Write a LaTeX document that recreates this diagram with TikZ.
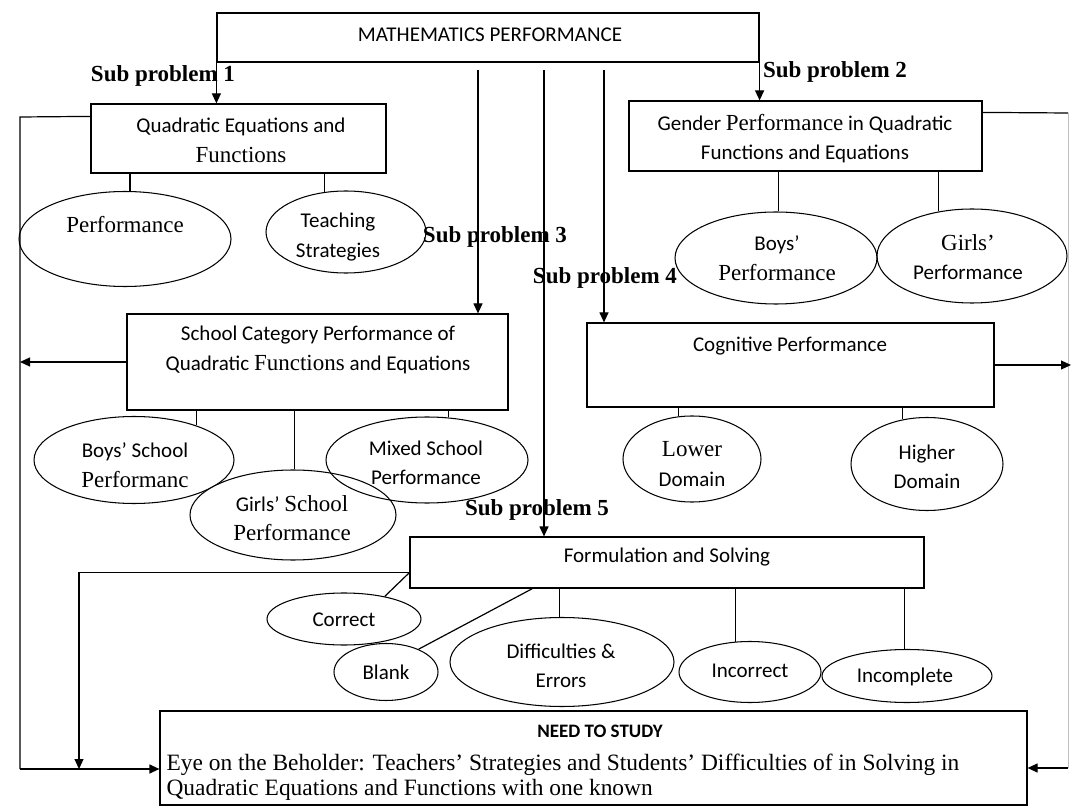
\documentclass[tikz,border=0pt]{standalone}
\usepackage{fontspec}
\setmainfont{Liberation Serif}
\newfontfamily\fsans{Carlito}
\usetikzlibrary{shapes.geometric,arrows.meta,calc}
\newcommand\txr[1]{{\rmfamily\fontsize{23}{29.5}\selectfont #1}}
\begin{document}
\begin{tikzpicture}[x=1pt,y=-1pt,line width=1.2pt,
  every node/.style={font=\fsans\fontsize{21}{29.5}\selectfont, align=center, inner sep=0pt},
  box/.style={draw, rectangle},
  oval/.style={draw, ellipse, line width=1.05pt},
  sublbl/.style={font=\rmfamily\bfseries\fontsize{23}{28}\selectfont},
  arr/.style={-{Triangle[length=10pt,width=9pt]}},
  faint/.style={draw=black!25, line width=0.8pt}]
\fill[white] (0,0) rectangle (1072,810);
\useasboundingbox (0,0) rectangle (1072,810);

% boxes
\node[box, minimum width=542pt, minimum height=49pt] (main) at (488,37.5) {};
\node (mainT) at (490,35) {MATHEMATICS PERFORMANCE};
\node[box, minimum width=295pt, minimum height=69pt] (quad) at (238.5,138.5) {};
\node (quadT) at (241,140.5) {Quadratic Equations and\\\txr{Functions}};
\node[box, minimum width=353pt, minimum height=70pt] (gender) at (805.5,136) {};
\node (genderT) at (805,138.5) {Gender \txr{Performance} in Quadratic\\Functions and Equations};
\node[box, minimum width=381pt, minimum height=96pt] (school) at (317.5,362) {};
\node (schoolT) at (318,350) {School Category Performance of\\Quadratic \txr{Functions} and Equations};
\node[box, minimum width=407pt, minimum height=84pt] (cog) at (790.5,365) {};
\node (cogT) at (790,346) {Cognitive Performance};
\node[box, minimum width=514pt, minimum height=51pt] (form) at (667,562.5) {};
\node (formT) at (667,557) {Formulation and Solving};
\node[box, minimum width=867pt, minimum height=94pt] (need) at (593.5,758) {};
\node[font=\fsans\bfseries\fontsize{19}{22}\selectfont] (needT) at (600,731) {NEED TO STUDY};
\node[anchor=west, align=left, font=\rmfamily\fontsize{23.4}{25}\selectfont] (needB) at (166,777)
  {Eye on the Beholder: Teachers’ Strategies and Students’ Difficulties of in Solving in\\Quadratic Equations and Functions with one known};

% ellipses
\node[oval, minimum width=212pt, minimum height=95pt] (perf) at (125,239) {};
\node (perfT) at (125,225) {\txr{Performance}};
\node[oval, minimum width=160pt, minimum height=82pt] (teach) at (346,232) {};
\node (teachT) at (338,237) {Teaching\\Strategies};
\node[oval, minimum width=202pt, minimum height=92pt] (boysP) at (776,258) {};
\node (boysPT) at (777,258) {Boys’\\\txr{Performance}};
\node[oval, minimum width=190pt, minimum height=94pt] (girlsP) at (972,256) {};
\node (girlsPT) at (968,257) {\txr{Girls’}\\Performance};
\node[oval, minimum width=200pt, minimum height=87pt] (boysS) at (134,460) {};
\node (boysST) at (135,465) {Boys’ School\\\txr{Performanc}};
\node[oval, fill=white, minimum width=206pt, minimum height=90pt] (girlsS) at (293,515) {};
\node (girlsST) at (292,518) {Girls’ \txr{School}\\\txr{Performance}};
\node[oval, minimum width=202pt, minimum height=86pt] (mixedS) at (427,460) {};
\node (mixedST) at (426,463) {Mixed School\\Performance};
\node[oval, minimum width=138pt, minimum height=86pt] (lower) at (692,459) {};
\node (lowerT) at (692,464) {\txr{Lower}\\Domain};
\node[oval, minimum width=152pt, minimum height=93pt] (higher) at (927,464) {};
\node (higherT) at (927,467) {Higher\\Domain};
\node[oval, minimum width=154pt, minimum height=52pt] (correct) at (344,619) {};
\node (correctT) at (344,620) {Correct};
\node[oval, minimum width=104pt, minimum height=57pt] (blank) at (386,672) {};
\node (blankT) at (386,672) {Blank};
\node[oval, minimum width=224pt, minimum height=89pt] (diff) at (562,662) {};
\node (diffT) at (561,666) {Difficulties \&\\Errors};
\node[oval, minimum width=142pt, minimum height=61pt] (incorr) at (750,672) {};
\node (incorrT) at (750,671) {Incorrect};
\node[oval, minimum width=170pt, minimum height=53pt] (incompl) at (907,676) {};
\node (incomplT) at (905,677) {Incomplete};

% sub problem labels
\node[sublbl] (sp1) at (163,76) {Sub problem 1};
\node[sublbl] (sp2) at (835,72) {Sub problem 2};
\node[sublbl] (sp3) at (495,237) {Sub problem 3};
\node[sublbl] (sp4) at (605,278) {Sub problem 4};
\node[sublbl] (sp5) at (537,510) {Sub problem 5};

% helper coordinates
\coordinate (a3) at (478,70);
\coordinate (a5) at (544,70);
\coordinate (a4) at (604,70);
\coordinate (ltop) at (20,117);
\coordinate (lbot) at (20,769);
\coordinate (fl) at ($(form.south west)+(0,-16)$);
\coordinate (floop) at (79,769);
\coordinate (fb) at ($(form.south west)+(123,0)$);
\coordinate (rtop) at (1068,113);
\coordinate (rbot) at (1068,768);
\coordinate (redge) at (1071,0);

% arrows from main
\draw[arr] (main.south west) -- (main.south west |- quad.north);
\draw[arr] (main.south east) -- (main.south east |- gender.north);
\draw[arr] (a3) -- (a3 |- school.north);
\draw[arr] (a5) -- (a5 |- form.north);
\draw[arr] (a4) -- (a4 |- cog.north);

% left loop
\draw ($(quad.north west)+(0,13)$) -- (ltop) -- (lbot);
\draw[arr] (lbot) -- (lbot -| need.west);
\draw[arr] (school.west) -- (school.west -| ltop);
\draw[arr] (fl) -| (floop);

% right loop
\draw ($(gender.north east)+(0,12)$) -- (rtop);
\draw[faint] (rtop) -- (rbot);
\draw[arr] (rbot) -- (rbot -| need.east);
\draw[arr] (cog.east) -- (cog.east -| redge);

% connectors
\draw (perf.84 |- quad.south) -- (perf.84);
\draw (teach.118 |- quad.south) -- (teach.118);
\draw (boysP.87 |- gender.south) -- (boysP.87);
\draw (girlsP.127 |- gender.south) -- (girlsP.127);
\draw (boysS.29 |- school.south) -- (boysS.29);
\draw (girlsS.88 |- school.south) -- (girlsS.88);
\draw (mixedS.63 |- school.south) -- (mixedS.63);
\draw (lower.108 |- cog.south) -- (lower.108);
\draw (higher.119 |- cog.south) -- (higher.119);
\draw (fl) -- (correct.29);
\draw (fb) -- (blank.35);
\draw (diff.93 |- form.south) -- (diff.93);
\draw (incorr.115 |- form.south) -- (incorr.115);
\draw (incompl.95 |- form.south) -- (incompl.95);
\end{tikzpicture}
\end{document}
